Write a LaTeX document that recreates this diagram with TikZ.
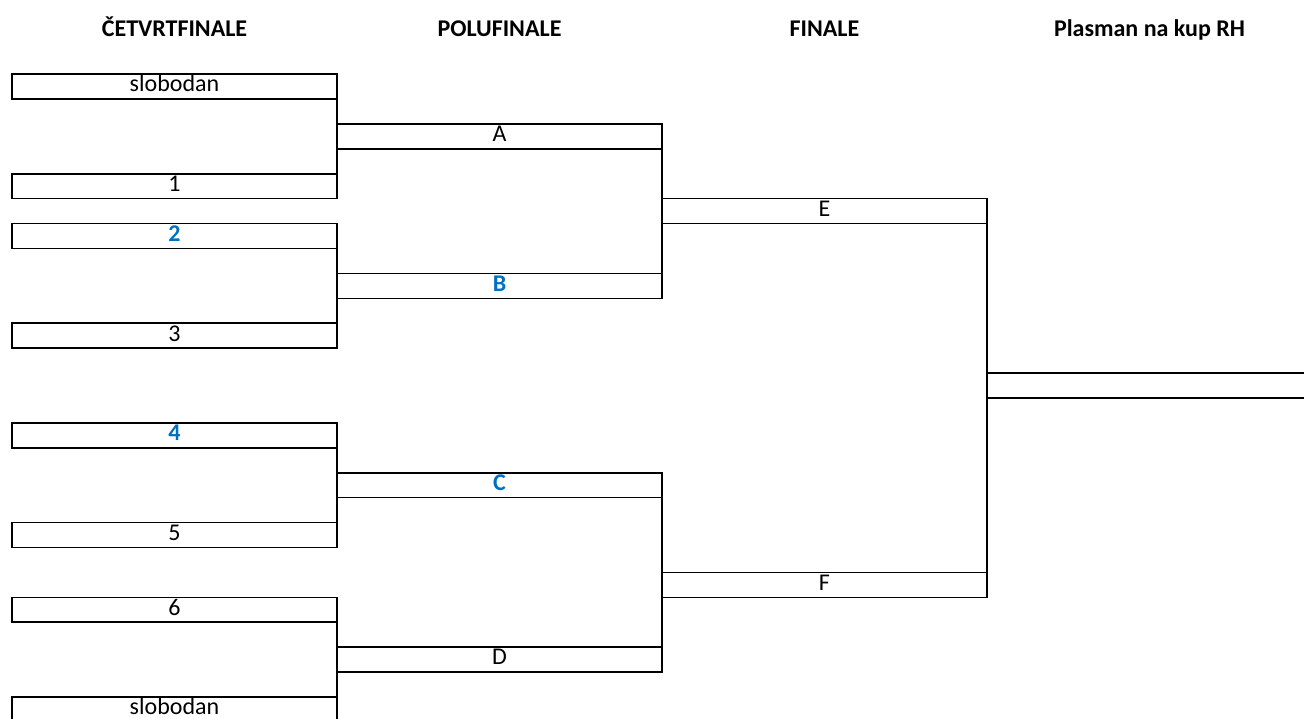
\documentclass[tikz,border=0pt]{standalone}
\usepackage{fontspec}
\setmainfont{Carlito}
\usetikzlibrary{positioning}
\definecolor{tblue}{HTML}{0070C0}
\tikzset{
  cell/.style={draw, rectangle, line width=1.6pt, minimum width=325pt, minimum height=24.9pt,
    inner sep=0pt, outer sep=0pt, text height=17pt, text depth=6.4pt,
    font=\fontsize{24}{29}\selectfont},
  head/.style={anchor=base, font=\fontsize{24}{29}\selectfont\bfseries},
  link/.style={line width=1.6pt}
}
\newcommand{\hl}[1]{\textcolor{tblue}{\textbf{#1}}}

\begin{document}
\begin{tikzpicture}[x=1pt, y=-1pt]
  \path[use as bounding box, clip] (0,0) rectangle (1304,718);

  % headings
  \node[head] (h1) at (174.5,36) {ČETVRTFINALE};
  \node[head] (h2) at (499.5,36) {POLUFINALE};
  \node[head] (h3) at (824.5,36) {FINALE};
  \node[head] (h4) at (1149.5,36) {Plasman na kup RH};

  % quarter-finals
  \foreach \n/\r/\t in {q1/0/slobodan, q2/4/1, q3/6/{\hl{2}}, q4/10/3,
                        q5/14/{\hl{4}}, q6/18/5, q7/21/6, q8/25/slobodan}
    \node[cell] (\n) at (174.5, 86.5+24.92*\r) {\t};

  % semi-finals
  \foreach \n/\r/\t in {sA/2/A, sB/8/{\hl{B}}, sC/16/{\hl{C}}, sD/23/D}
    \node[cell] (\n) at (499.5, 86.5+24.92*\r) {\t};

  % finals
  \node[cell] (fE) at (824.5, 86.5+24.92*5) {E};
  \node[cell] (fF) at (824.5, 86.5+24.92*20) {F};

  % winner
  \node[cell] (win) at (1149.5, 86.5+24.92*12) {};

  % brackets
  \draw[link] (q1.north east) -- (q2.south east);
  \draw[link] (q3.north east) -- (q4.south east);
  \draw[link] (q5.north east) -- (q6.south east);
  \draw[link] (q7.north east) -- (q8.south east);
  \draw[link] (sA.north east) -- (sB.south east);
  \draw[link] (sC.north east) -- (sD.south east);
  \draw[link] (fE.north east) -- (fF.south east);
\end{tikzpicture}
\end{document}
